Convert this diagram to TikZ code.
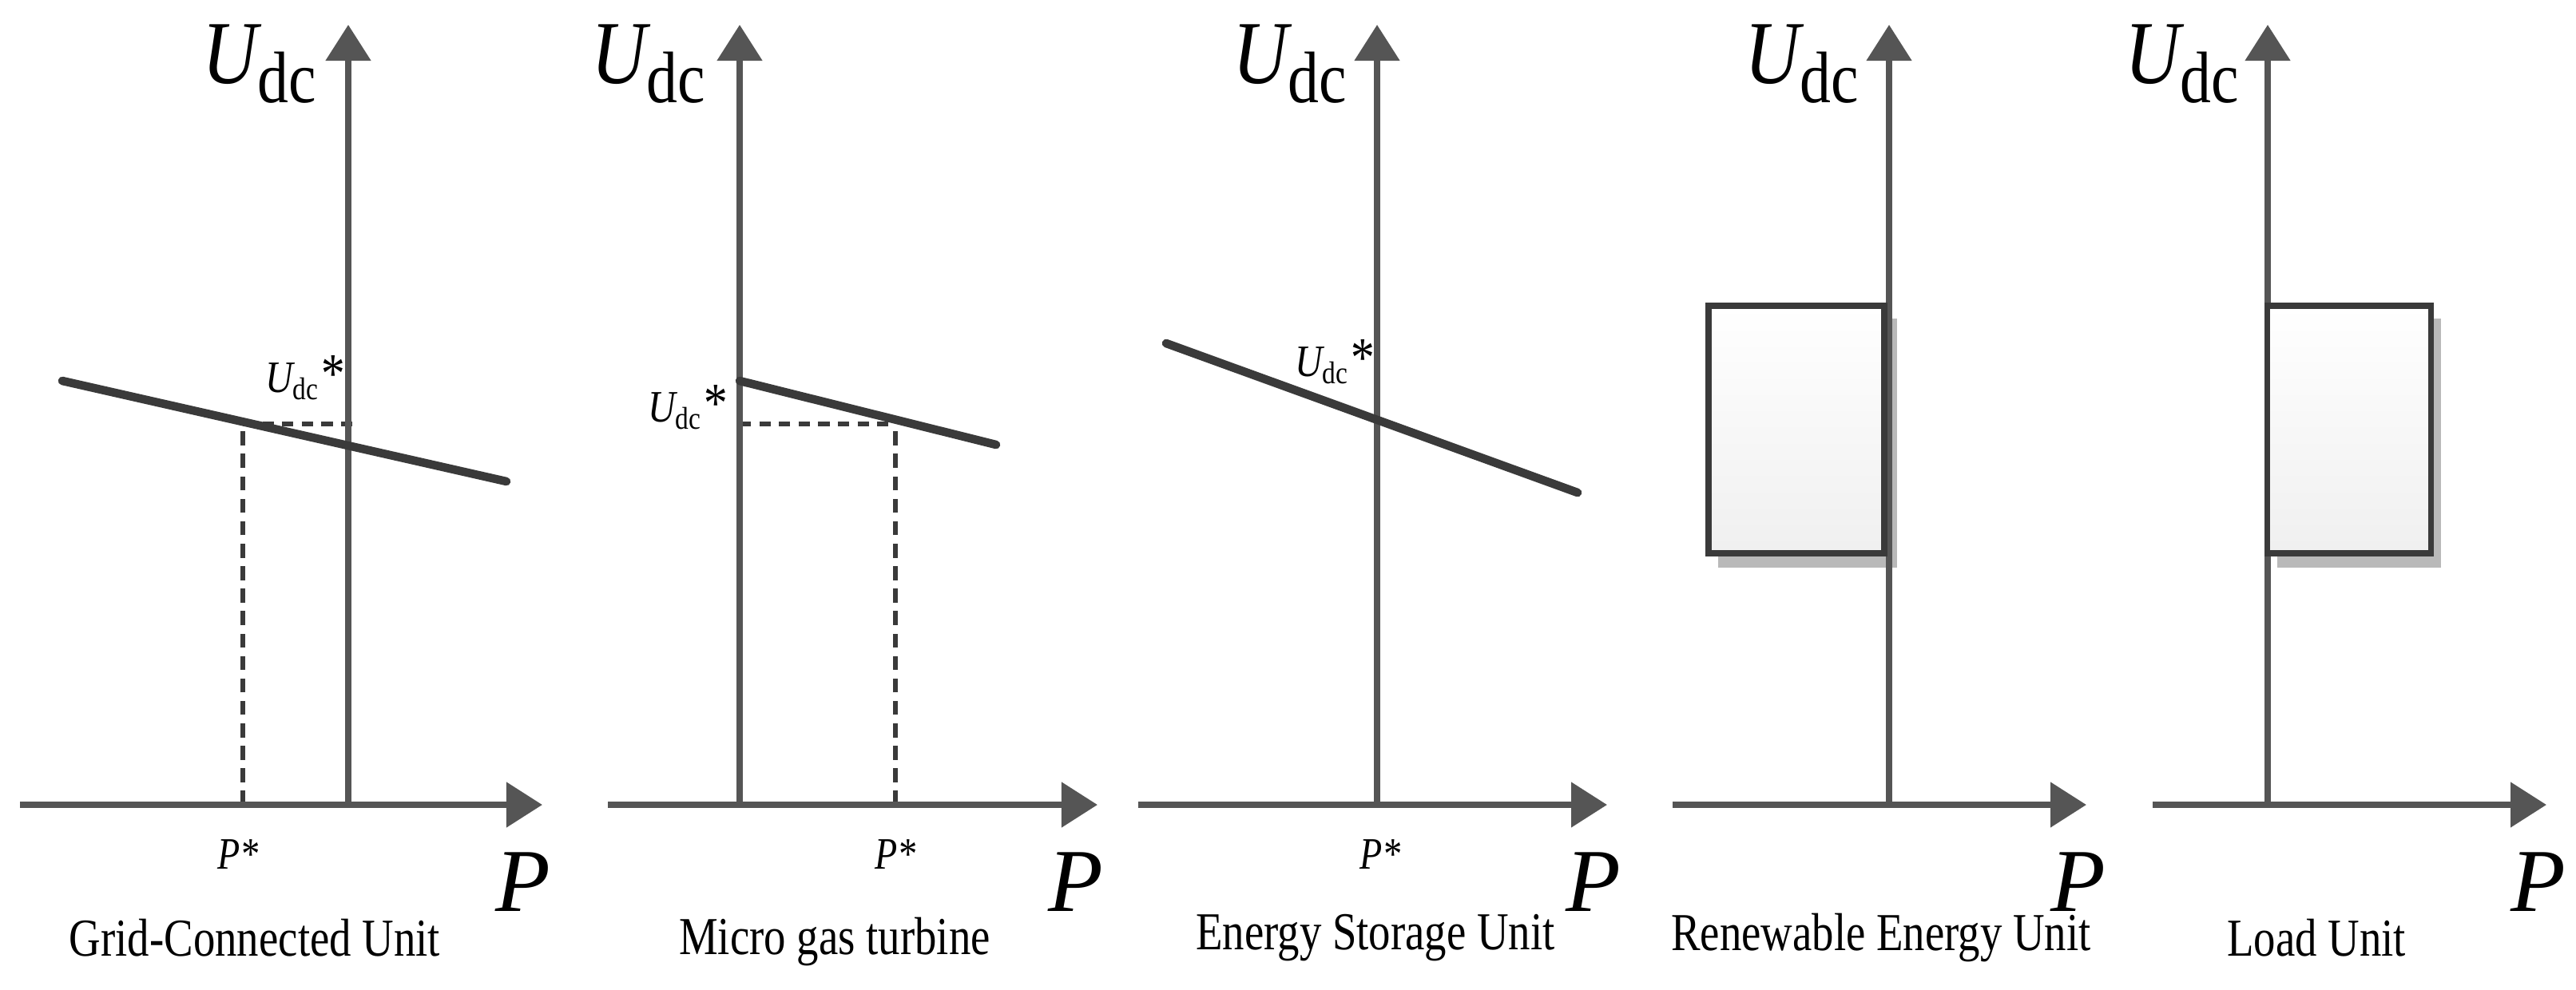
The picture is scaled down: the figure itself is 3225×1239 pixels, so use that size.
\documentclass[tikz,border=0pt]{standalone}
\usepackage{fontspec}
\setmainfont{Liberation Serif}
\usetikzlibrary{arrows.meta}
\definecolor{ax}{HTML}{555555}
\definecolor{ln}{HTML}{3A3A3A}
\tikzset{
  axis/.style={draw=ax,line width=2.3pt,-{Triangle[length=0.45cm,width=0.55cm]}},
  curve/.style={draw=ln,line width=3pt,line cap=round},
  guide/.style={draw=ln,line width=1.6pt,dash pattern=on 5pt off 3pt},
  big/.style={font=\fontsize{32}{36}\selectfont\itshape,inner sep=0},
  captxt/.style={font=\fontsize{19}{22}\selectfont,inner sep=0},
  star/.style={font=\fontsize{16}{18}\selectfont,inner sep=0},
  ubox/.style={draw=ln,line width=2.2pt,top color=white,bottom color=gray!12},
  shadowbox/.style={fill=gray!55,draw=none}
}
\newcommand{\bigU}{\scalebox{0.85}[1]{U\raisebox{-0.22em}{\upshape\fontsize{26}{28}\selectfont dc}}}
\newcommand{\smU}{\scalebox{0.85}[1]{\itshape U\textsubscript{\upshape dc}\fontsize{20}{20}\selectfont *}}
\newcommand{\cond}[1]{\scalebox{0.82}[1]{#1}}
\begin{document}
\begin{tikzpicture}[x=0.01cm,y=-0.01cm]
\useasboundingbox (0,0) rectangle (3225,1239);
% ---- panel 1
\coordinate (o1) at (436,1008);
\coordinate (v1) at (436,31);
\coordinate (h1s) at (25,1008);
\coordinate (h1) at (679,1008);
\coordinate (a1) at (78,477); \coordinate (b1) at (634,603);
\coordinate (p1) at (304,531); \coordinate (p1b) at (304,1008); \coordinate (q1) at (443,531);
\draw[guide] (p1b) -- (p1);
\draw[guide,dash pattern=on 4pt off 3pt] (p1) -- (q1);
\draw[axis] (o1) -- (v1);
\draw[axis] (h1s) -- (h1);
\draw[curve] (a1) -- (b1);
\node[big] (u1) at (325,80) {\bigU};
\node[star] (us1) at (381,473) {\smU};
\node[star] (ps1) at (298,1070) {\cond{\itshape P*}};
\node[big] (P1) at (655,1105) {P};
\node[captxt] (c1) at (319,1175) {\cond{Grid-Connected Unit}};
% ---- panel 2
\coordinate (o2) at (926,1008);
\coordinate (v2) at (926,31);
\coordinate (h2s) at (761,1008);
\coordinate (h2) at (1374,1008);
\coordinate (a2) at (926,477); \coordinate (b2) at (1247,557);
\coordinate (p2) at (1121,531); \coordinate (p2b) at (1121,1008);
\draw[guide] (p2b) -- (p2);
\draw[guide,dash pattern=on 4pt off 3pt] (o2|-p2) -- (p2);
\draw[axis] (o2) -- (v2);
\draw[axis] (h2s) -- (h2);
\draw[curve] (a2) -- (b2);
\node[big] (u2) at (812,80) {\bigU};
\node[star] (us2) at (860,510) {\smU};
\node[star] (ps2) at (1121,1070) {\cond{\itshape P*}};
\node[big] (P2) at (1347,1105) {P};
\node[captxt] (c2) at (1045,1180) {\cond{Micro gas turbine}};
% ---- panel 3
\coordinate (o3) at (1724,1008);
\coordinate (v3) at (1724,31);
\coordinate (h3s) at (1425,1008);
\coordinate (h3) at (2012,1008);
\coordinate (a3) at (1460,430); \coordinate (b3) at (1975,617);
\draw[axis] (o3) -- (v3);
\draw[axis] (h3s) -- (h3);
\draw[curve] (a3) -- (b3);
\node[big] (u3) at (1615,80) {\bigU};
\node[star] (us3) at (1670,453) {\smU};
\node[star] (ps3) at (1728,1070) {\cond{\itshape P*}};
\node[big] (P3) at (1995,1105) {P};
\node[captxt] (c3) at (1722,1175) {\cond{Energy Storage Unit}};
% ---- panel 4
\coordinate (o4) at (2365,1008);
\coordinate (v4) at (2365,31);
\coordinate (h4s) at (2094,1008);
\coordinate (h4) at (2612,1008);
\fill[shadowbox] (2151,399) rectangle (2375,711);
\draw[axis] (o4) -- (v4);
\node[ubox,minimum width=2.2cm,minimum height=3.1cm,inner sep=0] (r4) at (2249,538) {};
\draw[axis] (h4s) -- (h4);
\node[big] (u4) at (2256,80) {\bigU};
\node[big] (P4) at (2602,1105) {P};
\node[captxt] (c4) at (2355,1175) {\cond{Renewable Energy Unit}};
% ---- panel 5
\coordinate (o5) at (2839,1008);
\coordinate (v5) at (2839,31);
\coordinate (h5s) at (2695,1008);
\coordinate (h5) at (3188,1008);
\fill[shadowbox] (2851,399) rectangle (3056,711);
\draw[axis] (o5) -- (v5);
\node[ubox,minimum width=2.05cm,minimum height=3.1cm,inner sep=0] (r5) at (2941,538) {};
\draw[axis] (h5s) -- (h5);
\node[big] (u5) at (2732,80) {\bigU};
\node[big] (P5) at (3178,1105) {P};
\node[captxt] (c5) at (2900,1175) {\cond{Load Unit}};
\end{tikzpicture}
\end{document}
